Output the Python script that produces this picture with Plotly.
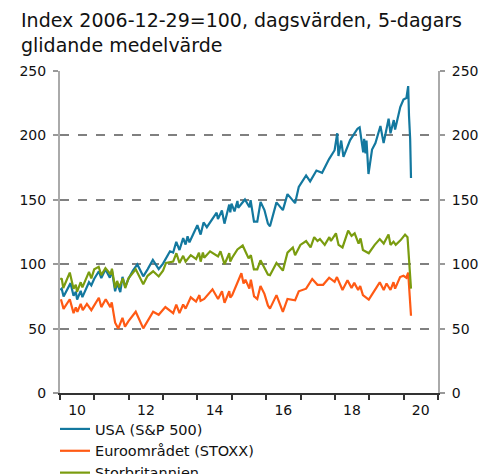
import plotly.graph_objects as go

# ---- data (index 2006-12-29 = 100) ----
usa_dates = ["2010-01-04","2010-01-19","2010-02-08","2010-04-23","2010-05-25","2010-06-18","2010-07-02","2010-08-09","2010-08-27","2010-10-01","2010-11-05","2010-11-30","2010-12-31",
"2011-02-18","2011-03-16","2011-04-29","2011-06-15","2011-07-07","2011-08-10","2011-08-31","2011-10-04","2011-10-27","2011-11-25","2011-12-30",
"2012-02-15","2012-04-02","2012-06-04","2012-07-20","2012-09-14","2012-11-15","2012-12-31",
"2013-03-15","2013-04-18","2013-05-21","2013-06-24","2013-08-02","2013-08-28","2013-09-18","2013-10-08","2013-12-31",
"2014-02-04","2014-03-07","2014-04-11","2014-07-24","2014-08-07","2014-09-18","2014-10-15","2014-12-05","2014-12-16","2014-12-29",
"2015-01-30","2015-03-02","2015-03-11","2015-05-21","2015-07-08","2015-07-20","2015-08-25","2015-09-29","2015-11-03","2015-12-14",
"2016-01-20","2016-02-11","2016-04-20","2016-06-27","2016-08-15","2016-11-04","2016-12-13",
"2017-03-01","2017-04-13","2017-06-19","2017-08-18","2017-10-31","2017-12-29",
"2018-01-26","2018-02-08","2018-03-09","2018-04-02","2018-06-12","2018-08-29","2018-09-21","2018-10-29","2018-11-08","2018-11-23","2018-12-03","2018-12-24",
"2019-01-31","2019-03-08","2019-04-30","2019-06-03","2019-07-26","2019-08-15","2019-09-19","2019-10-03","2019-11-27","2019-12-31",
"2020-01-31","2020-02-19","2020-02-28","2020-03-11","2020-03-20"]
usa_values = [80,81,75,85.3,75.5,78.6,72.5,79.3,74.4,80.7,86,83.6,88.7,
94.5,89.2,95.9,89.5,95.2,79,85.3,78.3,90.2,82.5,88.7,
95,99.8,90.6,96,103.3,96.2,100.5,
110,109,117.4,111,120.2,115.3,121.6,117,130.3,
123,132.4,128.7,140,135,141.7,131.5,146.3,140.3,147,
141,149.1,143.8,150.2,144.2,149.8,133,133,148.4,142,
131.5,129.4,148,142,154.4,147.4,160,
168.9,164.3,172.7,171,181.6,188.5,
201.7,184,196,183.3,196.4,205.2,206.2,186.8,197.4,186,196,170,
189,194,207.3,194,213,201.6,211.9,204.5,222,227.8,
229,238.3,215,197.4,167]

euro_dates = ["2010-01-11","2010-02-08","2010-04-15","2010-05-25","2010-06-18","2010-07-05","2010-08-09","2010-08-31","2010-10-14","2010-11-30","2010-12-31",
"2011-02-18","2011-03-16","2011-05-02","2011-06-20","2011-07-05","2011-08-10","2011-09-12","2011-10-27","2011-11-23","2011-12-30",
"2012-03-16","2012-06-04","2012-09-17","2012-11-15","2012-12-31",
"2013-01-25","2013-04-18","2013-05-21","2013-06-24","2013-08-02","2013-08-28","2013-10-22","2013-12-17",
"2014-01-22","2014-02-03","2014-03-14","2014-06-10","2014-08-08","2014-09-19","2014-10-16","2014-12-05","2014-12-16",
"2015-01-05","2015-03-16","2015-04-13","2015-05-06","2015-05-26","2015-07-07","2015-07-23","2015-08-26","2015-09-29","2015-11-02","2015-12-14",
"2016-01-20","2016-02-11","2016-04-20","2016-06-27","2016-08-15","2016-11-04","2016-12-13",
"2017-03-01","2017-05-05","2017-06-30","2017-08-29","2017-11-01","2017-12-29",
"2018-01-23","2018-03-23","2018-05-15","2018-06-27","2018-07-26","2018-09-05","2018-09-27","2018-10-26","2018-12-27",
"2019-03-20","2019-04-23","2019-06-04","2019-07-04","2019-08-15","2019-09-16","2019-10-03","2019-11-25","2019-12-31",
"2020-01-31","2020-02-19","2020-02-28","2020-03-11","2020-03-20"]
euro_values = [72.8,65.3,72.8,62,66.5,63,69.2,64.3,69.2,64.3,68,
74,66.7,72.8,66.7,70.4,54.6,50,58.3,51.5,55.8,
63.1,50.2,63.1,60.7,64.1,
66.7,62,68.7,62,68.7,65.5,74.3,71,
76,71.5,73,80.5,73,79,70,79,74,
76,89,93,85,88,81,88,75,73,83,77,
68,65.5,76,63,73,72,79,
81,88.5,84,84,89.5,86.3,
90,80,87.5,81.5,85.5,80,83,76,72.5,
82,86,80,85,80,86,81,90,91,
89.5,93.5,84,71,60]

uk_dates = ["2010-01-04","2010-01-19","2010-02-05","2010-04-15","2010-05-25","2010-06-18","2010-07-01","2010-08-09","2010-08-27","2010-10-15","2010-11-05","2010-11-30","2010-12-31",
"2011-02-16","2011-03-16","2011-04-29","2011-06-24","2011-07-07","2011-08-10","2011-08-31","2011-09-23","2011-10-31","2011-11-25","2011-12-30",
"2012-03-16","2012-06-04","2012-07-20","2012-09-17","2012-11-15","2012-12-31",
"2013-02-01","2013-04-18","2013-05-22","2013-06-24","2013-08-02","2013-08-28","2013-10-22","2013-12-18",
"2014-01-17","2014-02-04","2014-02-28","2014-03-14","2014-05-15","2014-08-08","2014-09-03","2014-10-16","2014-12-05","2014-12-16",
"2015-01-05","2015-03-02","2015-04-27","2015-06-29","2015-07-23","2015-08-24","2015-09-29","2015-11-02","2015-12-14",
"2016-01-20","2016-02-11","2016-04-20","2016-06-27","2016-08-15","2016-10-11","2016-11-04","2016-12-30",
"2017-03-01","2017-04-18","2017-05-26","2017-06-30","2017-07-26","2017-09-15","2017-11-03","2017-11-20","2017-12-29",
"2018-01-12","2018-02-09","2018-03-23","2018-05-22","2018-06-27","2018-07-30","2018-09-10","2018-10-01","2018-10-26","2018-12-27",
"2019-02-28","2019-04-23","2019-06-04","2019-07-25","2019-08-15","2019-09-16","2019-10-10","2019-11-29","2019-12-31",
"2020-01-17","2020-02-12","2020-02-28","2020-03-11","2020-03-20"]
uk_values = [88,89,81.5,93.5,81,84,78.5,86,82,91,94,89,96,
98,91.5,97,92,96.5,81.5,87,82,89,81.5,89,
96,84.5,91,94.5,90.5,95,
101,102,108.5,101,106.5,102,107,104,
109,102,109,105,110,106,110,100,108.5,102,
105,111.5,114.5,104.5,107,96,96,103,97,
92,91.5,101,95,109,113,107,115,
118,113,121,118,119.5,115,121,118,123,
124,115,113,126,122,124,116,120,111,108.5,
115,119.5,116,123,115,117.5,115,118.5,122,
123,121,105,92,81]

series_names = ["USA (S&P 500)", "Euroområdet (STOXX)", "Storbritannien"]
series_colors = ["#13789f", "#ff5a14", "#7a9c0f"]
y_ticks = [0, 50, 100, 150, 200, 250]
x_label_pos = ["2010-07-02", "2012-07-02", "2014-07-02", "2016-07-02", "2018-07-02", "2020-07-02"]
x_label_txt = ["10", "12", "14", "16", "18", "20"]
subtitle = "Index 2006-12-29=100, dagsvärden, 5-dagars<br>glidande medelvärde"

FONT = "DejaVu Sans"
W, H = 481, 500
L, T, PH = 52, 63, 322
B = H - T - PH

fig = go.Figure()
for d, v, n, c in zip([usa_dates, euro_dates, uk_dates], [usa_values, euro_values, uk_values],
                      series_names, series_colors):
    fig.add_trace(go.Scatter(x=d, y=v, name=n, mode="lines",
                             line=dict(color=c, width=2.2)))
# right-hand axis copy (same scale), invisible
fig.add_trace(go.Scatter(x=usa_dates, y=usa_values, yaxis="y2", mode="lines",
                         line=dict(width=0, color="rgba(0,0,0,0)"), showlegend=False,
                         hoverinfo="skip"))

fig.add_annotation(text=subtitle, xref="paper", yref="paper",
                   x=(11 - L) / 378, y=(T + PH + 1) / PH, xanchor="left", yanchor="top",
                   align="left", showarrow=False,
                   font=dict(family=FONT, size=19, color="#111111"))

fig.update_layout(
    width=W, height=H,
    margin=dict(l=L, r=W - L - 378, t=T, b=B, autoexpand=False),
    paper_bgcolor="white", plot_bgcolor="white",
    font=dict(family=FONT, size=14, color="#111111"),
    showlegend=True,
    legend=dict(xref="container", x=47 / W, xanchor="left", yref="container", y=1 - 405 / H,
                yanchor="top", orientation="v",
                font=dict(family=FONT, size=14.5), tracegroupgap=0,
                bgcolor="rgba(0,0,0,0)", itemwidth=30),
    xaxis=dict(type="date", range=["2010-01-01", "2021-01-01"], automargin=False,
               tickvals=x_label_pos, ticktext=x_label_txt, ticks="", showgrid=False,
               showline=True, linecolor="#333333", linewidth=2, zeroline=False,
               tickfont=dict(size=14), ticklabelstandoff=3,
               minor=dict(tickvals=[f"{y}-01-01" for y in range(2010, 2022)],
                          ticks="outside", ticklen=5, tickcolor="#333333", tickwidth=1.5,
                          showgrid=False)),
    yaxis=dict(range=[0, 250], tickvals=y_ticks, ticks="outside", ticklen=5, automargin=False,
               tickcolor="#999999", tickwidth=1.5, ticklabelstandoff=4,
               showline=True, linecolor="#aaaaaa", linewidth=2,
               showgrid=True, gridcolor="#808080", griddash="dash", gridwidth=1.5,
               zeroline=False, tickfont=dict(size=14)),
    yaxis2=dict(range=[0, 250], tickvals=y_ticks, ticks="outside", ticklen=5, automargin=False,
                tickcolor="#999999", tickwidth=1.5, overlaying="y", side="right",
                ticklabelstandoff=4,
                showline=True, linecolor="#aaaaaa", linewidth=2, showgrid=False,
                zeroline=False, tickfont=dict(size=14)),
)
fig.write_html("out.html")
